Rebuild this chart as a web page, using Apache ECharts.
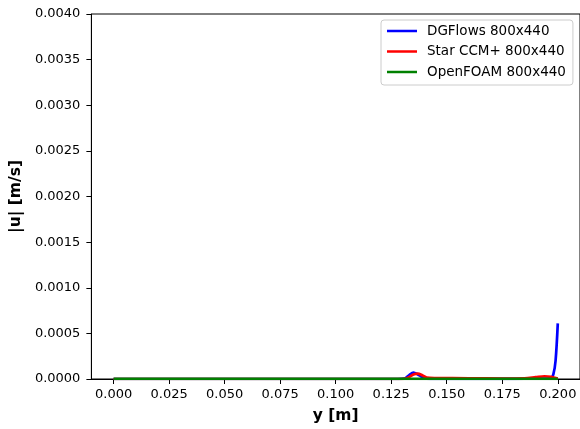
<!DOCTYPE html>
<html><head><meta charset="utf-8">
<script src="https://cdn.jsdelivr.net/npm/echarts@6/dist/echarts.min.js"></script>
<style>html,body{margin:0;padding:0;background:#fff}#c{width:580px;height:429px}</style>
</head><body><div id="c"></div>
<script>
const xTicks = [0, 0.025, 0.05, 0.075, 0.1, 0.125, 0.15, 0.175, 0.2];
const yTicks = [0, 0.0005, 0.001, 0.0015, 0.002, 0.0025, 0.003, 0.0035, 0.004];

const dgX = [0, 0.05, 0.1, 0.128, 0.131, 0.133, 0.135, 0.137, 0.139, 0.141, 0.145, 0.16, 0.18, 0.19, 0.195, 0.197, 0.198, 0.199, 0.2];
const dgY = [0, 0, 0, 0, 0.000005, 0.00004, 0.00007, 0.00005, 0.00002, 0.000005, 0.000002, 0.000001, 0.000002, 0.000004, 0.000005, 0.00001, 0.00005, 0.0002, 0.00061];

const starX = [0, 0.05, 0.1, 0.128, 0.131, 0.133, 0.135, 0.137, 0.139, 0.141, 0.145, 0.16, 0.175, 0.185, 0.19, 0.194, 0.197, 0.2];
const starY = [0, 0, 0, 0, 0.000003, 0.00002, 0.00005, 0.00006, 0.00004, 0.000015, 0.00001, 0.000008, 0.000005, 0.000008, 0.00002, 0.00003, 0.000025, 0.000005];

const ofX = [0, 0.05, 0.1, 0.15, 0.2];
const ofY = [0.000002, 0.000002, 0.000002, 0.000002, 0.000002];

const names = ['DGFlows 800x440', 'Star CCM+ 800x440', 'OpenFOAM 800x440'];
const colors = ['#0000ff', '#ff0000', '#008000'];

const pair = (xs, ys) => xs.map((x, i) => [x, ys[i]]);
const font = 'DejaVu Sans';
const chart = echarts.init(document.getElementById('c'), null, {renderer: 'canvas'});
chart.setOption({
  animation: false,
  backgroundColor: '#fff',
  grid: {left: 90, top: 14, width: 494, height: 365, show: true, borderColor: '#000', borderWidth: 1, backgroundColor: 'transparent'},
  xAxis: {
    type: 'value', min: -0.01, max: 0.21,
    name: 'y [m]', nameLocation: 'middle', nameGap: 29,
    nameTextStyle: {fontFamily: font, fontWeight: 'bold', fontSize: 15.5, color: '#000'},
    axisLine: {show: true, onZero: false, lineStyle: {color: '#000', width: 1}},
    axisTick: {show: true, length: 5, customValues: xTicks, lineStyle: {color: '#000'}},
    axisLabel: {customValues: xTicks, formatter: v => v.toFixed(3), fontFamily: font, fontSize: 13, color: '#000', margin: 9},
    splitLine: {show: false}
  },
  yAxis: {
    type: 'value', min: 0, max: 0.004, interval: 0.0005,
    name: '|u| [m/s]', nameLocation: 'middle', nameGap: 66,
    nameTextStyle: {fontFamily: font, fontWeight: 'bold', fontSize: 15.5, color: '#000'},
    axisLine: {show: true, onZero: false, lineStyle: {color: '#000', width: 1}},
    axisTick: {show: true, length: 5, lineStyle: {color: '#000'}},
    axisLabel: {formatter: v => v.toFixed(4), fontFamily: font, fontSize: 13, color: '#000', margin: 11},
    splitLine: {show: false}
  },
  legend: {
    orient: 'vertical', left: 381, top: 20,
    data: names,
    icon: 'rect', itemWidth: 30, itemHeight: 2.5, itemGap: 6.5,
    padding: [4, 7, 6, 6],
    backgroundColor: '#fff', borderColor: '#cccccc', borderWidth: 1, borderRadius: 3,
    textStyle: {fontFamily: font, fontSize: 13.5, color: '#000', lineHeight: 14, padding: [0, 0, 0, 5]}
  },
  series: [
    {name: names[0], type: 'line', data: pair(dgX, dgY), smooth: 0.3, showSymbol: false, lineStyle: {color: colors[0], width: 2.7}, itemStyle: {color: colors[0]}},
    {name: names[1], type: 'line', data: pair(starX, starY), smooth: 0.3, showSymbol: false, lineStyle: {color: colors[1], width: 2.7}, itemStyle: {color: colors[1]}},
    {name: names[2], type: 'line', data: pair(ofX, ofY), showSymbol: false, lineStyle: {color: colors[2], width: 2.7}, itemStyle: {color: colors[2]}}
  ]
});
</script></body></html>
